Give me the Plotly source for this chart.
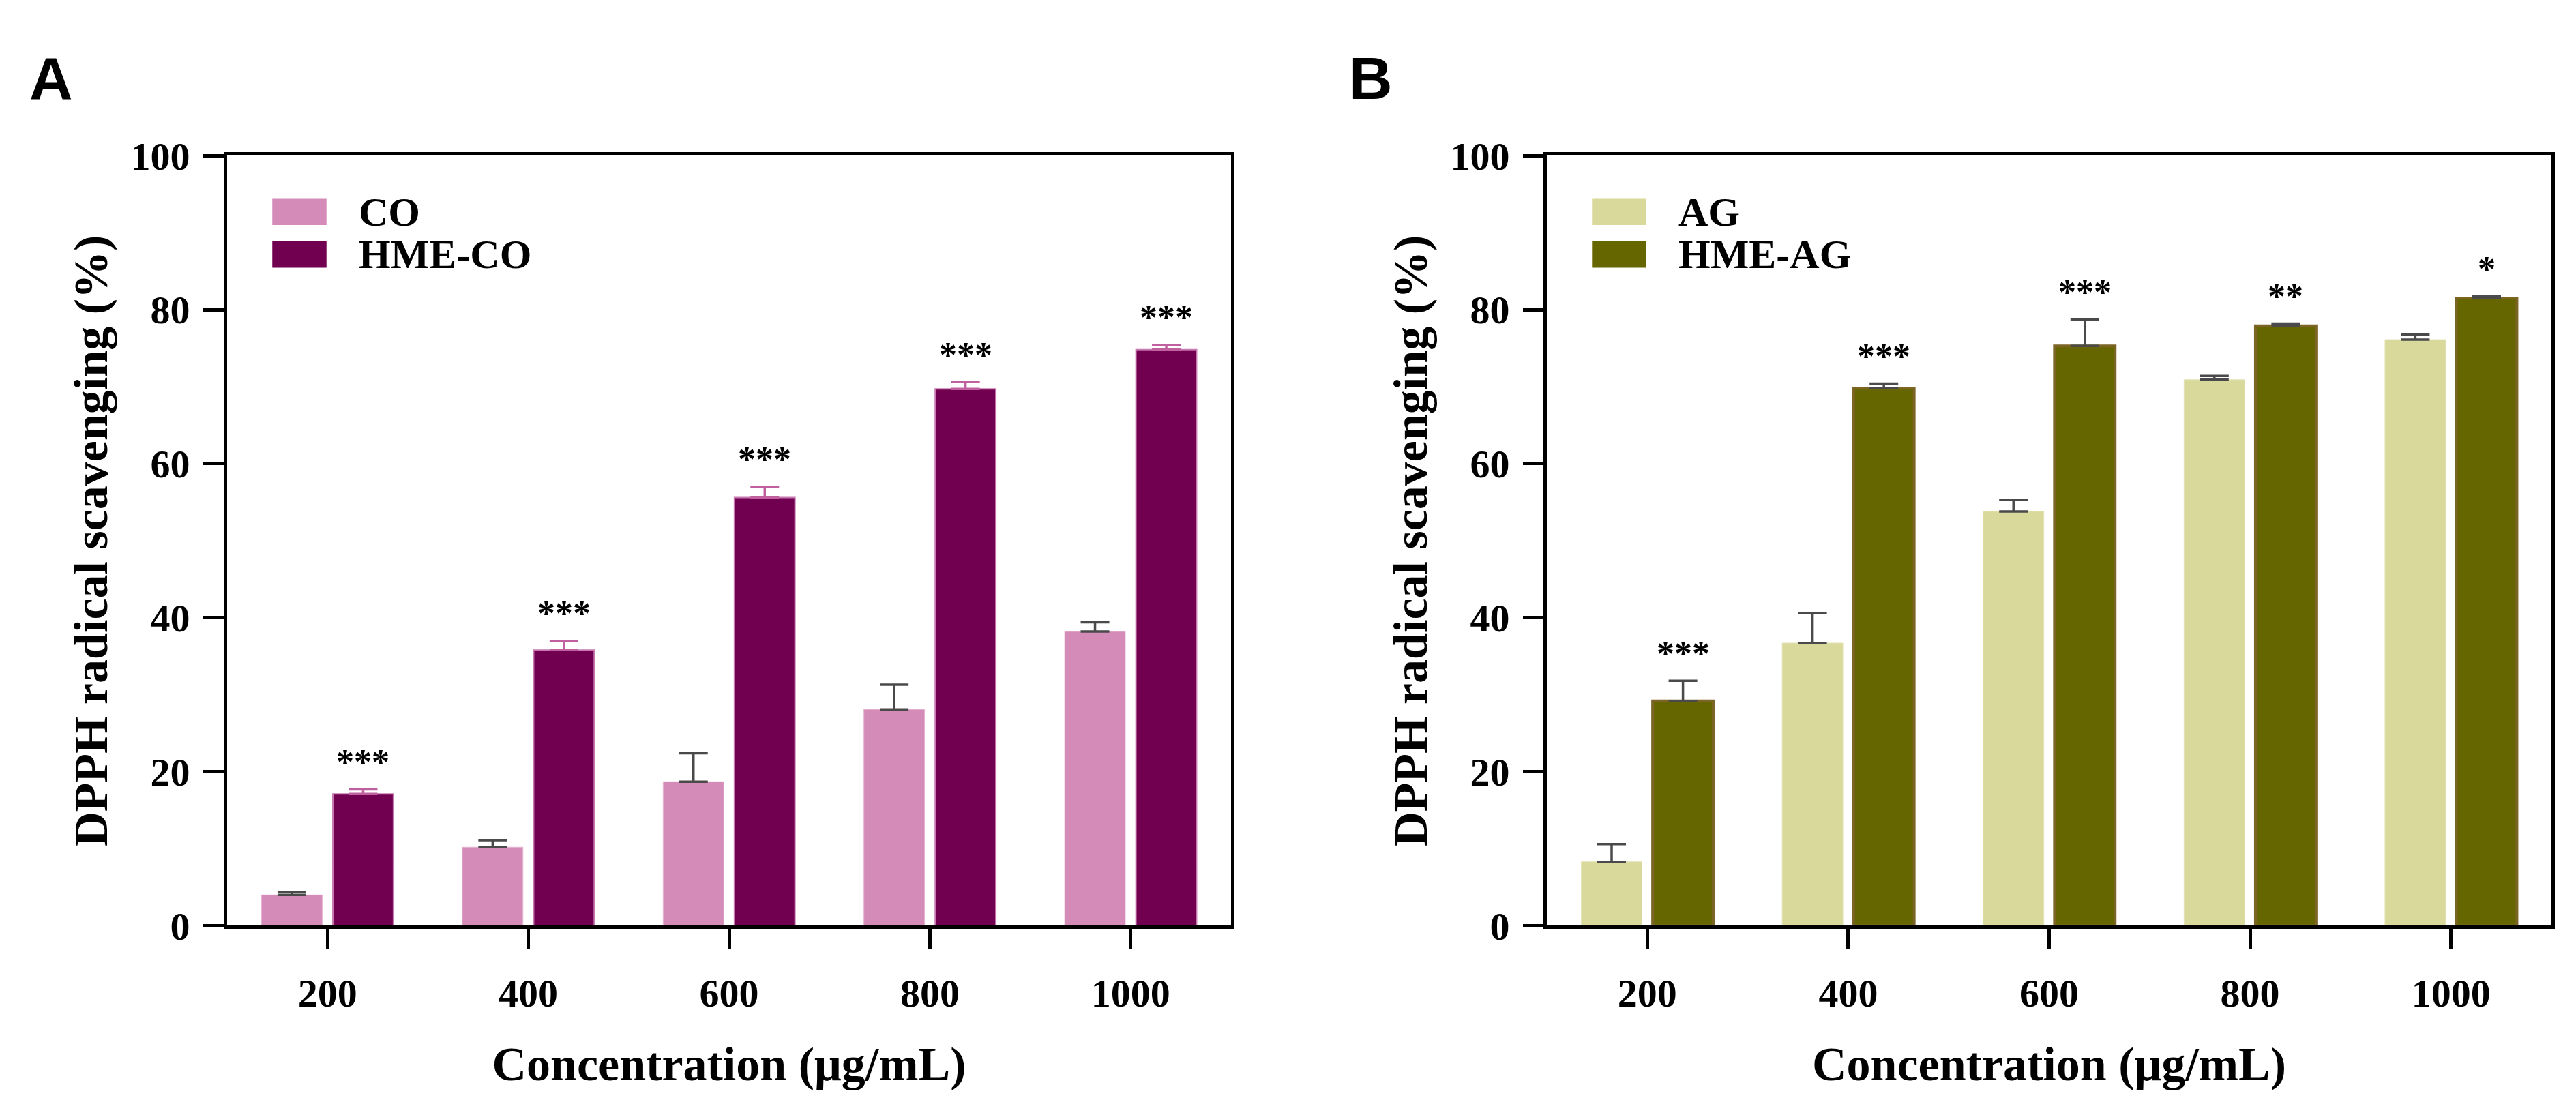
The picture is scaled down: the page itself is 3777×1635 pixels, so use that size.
import plotly.graph_objects as go

# ---------------- data ----------------
concentrations = ["200", "400", "600", "800", "1000"]

co_mean = [4.0, 10.2, 18.7, 28.1, 38.2]
co_err = [0.4, 0.9, 3.7, 3.2, 1.2]
hme_co_mean = [17.1, 35.8, 55.6, 69.7, 74.8]
hme_co_err = [0.6, 1.2, 1.4, 0.9, 0.6]
sig_a = ["***", "***", "***", "***", "***"]

ag_mean = [8.3, 36.7, 53.8, 70.9, 76.1]
ag_err = [2.3, 3.9, 1.5, 0.5, 0.7]
hme_ag_mean = [29.2, 69.8, 75.3, 77.9, 81.5]
hme_ag_err = [2.6, 0.6, 3.4, 0.3, 0.2]
sig_b = ["***", "***", "***", "**", "*"]

y_ticks = [0, 20, 40, 60, 80, 100]

# ---------------- style ----------------
W, H = 3777, 1635
SERIF = "Liberation Serif"
SANS = "Liberation Sans"
BARGAP = 0.29
GROUPGAP = 0.15
slot = (1 - BARGAP) / 2
off = slot / 2  # centre offset of each bar within the group

panels = [
    dict(xa="x", ya="y", xd=[325 / W, 1797 / W], letter="A", lx=33,
         s1=("CO", co_mean, co_err, "#D48BB8", "#E6B3D1", 1, "#4a4a4a"),
         s2=("HME-CO", hme_co_mean, hme_co_err, "#710050", "#C878B0", 2, "#C0609F"),
         sig=sig_a),
    dict(xa="x2", ya="y2", xd=[2260 / W, 3733 / W], letter="B", lx=1968,
         s1=("AG", ag_mean, ag_err, "#D8D99A", "#E2E2B4", 1, "#4a4a4a"),
         s2=("HME-AG", hme_ag_mean, hme_ag_err, "#666600", "#7B6424", 4, "#4a4a4a"),
         sig=sig_b),
]

y_dom = [(H - 1372) / H, (H - 196) / H]

fig = go.Figure()
annotations = []
shapes = []

for p in panels:
    for (name, mean, err, fill, edge, ew, ecol) in (p["s1"], p["s2"]):
        fig.add_trace(go.Bar(
            x=concentrations, y=mean, name=name, showlegend=False,
            xaxis=p["xa"], yaxis=p["ya"],
            marker=dict(color=fill, line=dict(color=edge, width=ew)),
            error_y=dict(type="data", array=err, arrayminus=[0] * len(err),
                         symmetric=False, color=ecol, thickness=3.5, width=21),
        ))
    # significance stars above the treated bars
    mean2, err2 = p["s2"][1], p["s2"][2]
    for i, lab in enumerate(p["sig"]):
        annotations.append(dict(
            x=i + off, y=mean2[i] + err2[i], xref=p["xa"], yref=p["ya"],
            text=lab, showarrow=False, yanchor="middle", yshift=40,
            font=dict(family=SERIF, size=52, color="black", weight="bold")))
    # legend (swatch + label)
    xdom = "x domain" if p["xa"] == "x" else "x2 domain"
    ydom = "y domain" if p["ya"] == "y" else "y2 domain"
    for k, s in enumerate((p["s1"], p["s2"])):
        top = 66 + 65 * k
        shapes.append(dict(type="rect", xref=xdom, yref=ydom,
                           x0=0.045, x1=0.099,
                           y0=1 - (top + 40) / 1176, y1=1 - top / 1176,
                           fillcolor=s[3], line=dict(width=0)))
        annotations.append(dict(x=0.13, y=1 - (top + 20) / 1176, xref=xdom, yref=ydom,
                                text=s[0], showarrow=False, xanchor="left", yanchor="middle",
                                font=dict(family=SERIF, size=60, color="black", weight="bold")))
    # panel letter
    annotations.append(dict(x=p["lx"] / W, y=1 - 78 / H, xref="paper", yref="paper",
                            text=p["letter"], showarrow=False, xanchor="left", yanchor="middle",
                            font=dict(family=SANS, size=88, color="black", weight="bold")))

axis_common = dict(showline=True, linecolor="black", linewidth=5, mirror=True,
                   ticks="outside", ticklen=30, tickwidth=5, tickcolor="black",
                   showgrid=False, zeroline=False,
                   tickfont=dict(family=SERIF, size=58, color="black", weight="bold"))

xtitle = dict(text="Concentration (μg/mL)", standoff=48,
              font=dict(family=SERIF, size=70, color="black", weight="bold"))
ytitle = dict(text="DPPH radical scavenging (%)", standoff=12,
              font=dict(family=SERIF, size=70, color="black", weight="bold"))

fig.update_layout(
    width=W, height=H,
    margin=dict(l=0, r=0, t=0, b=0),
    paper_bgcolor="white", plot_bgcolor="white",
    barmode="group", bargap=BARGAP, bargroupgap=GROUPGAP,
    xaxis=dict(domain=panels[0]["xd"], anchor="y", type="category",
               range=[-0.5, 4.5], title=xtitle, ticklabelstandoff=14, **axis_common),
    yaxis=dict(domain=y_dom, anchor="x", range=[0, 100], tickvals=y_ticks,
               title=ytitle, ticklabelstandoff=8, **axis_common),
    xaxis2=dict(domain=panels[1]["xd"], anchor="y2", type="category",
                range=[-0.5, 4.5], title=xtitle, ticklabelstandoff=14, **axis_common),
    yaxis2=dict(domain=y_dom, anchor="x2", range=[0, 100], tickvals=y_ticks,
                title=ytitle, ticklabelstandoff=8, **axis_common),
    annotations=annotations,
    shapes=shapes,
    showlegend=False,
)

fig.write_html("out.html")
